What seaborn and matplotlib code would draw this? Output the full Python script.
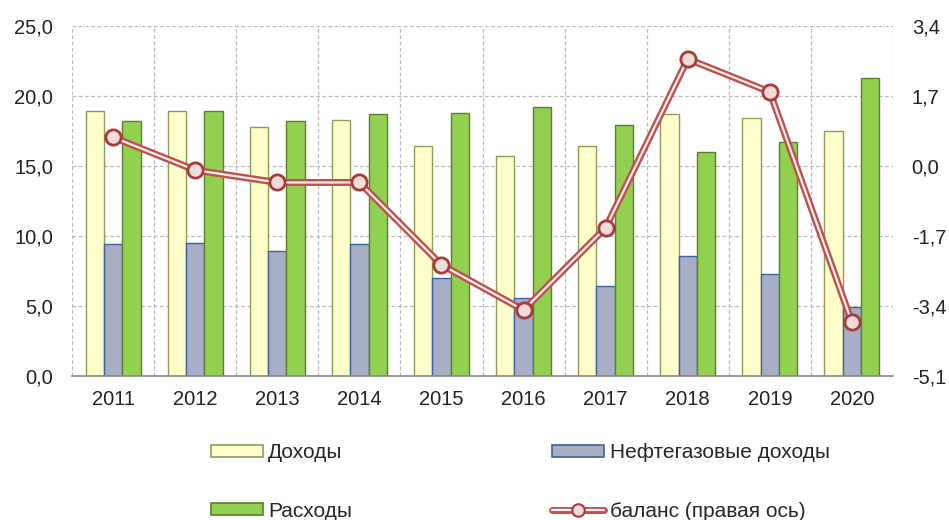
import numpy as np
import pandas as pd
import matplotlib
matplotlib.use("Agg")
import matplotlib.pyplot as plt
from matplotlib.patches import Patch
from matplotlib.lines import Line2D
import seaborn as sns

years = ["2011", "2012", "2013", "2014", "2015", "2016", "2017", "2018", "2019", "2020"]
dohody = [18.9, 18.9, 17.8, 18.3, 16.4, 15.7, 16.4, 18.7, 18.4, 17.5]
neftegaz = [9.4, 9.5, 8.9, 9.4, 7.0, 5.6, 6.4, 8.6, 7.3, 4.9]
rashody = [18.2, 18.9, 18.2, 18.7, 18.8, 19.2, 17.9, 16.0, 16.7, 21.3]
balans = [0.7, -0.1, -0.4, -0.4, -2.4, -3.5, -1.5, 2.6, 1.8, -3.8]

left_ticks = [0.0, 5.0, 10.0, 15.0, 20.0, 25.0]
right_ticks = [-5.1, -3.4, -1.7, 0.0, 1.7, 3.4]

names = ["Доходы", "Нефтегазовые доходы", "Расходы"]
fills = ["#FFFFCC", "#A6AFC6", "#92D050"]
edges = ["#8C9A5A", "#3B629A", "#5E7D32"]

df = pd.DataFrame({
    "year": years * 3,
    "value": dohody + neftegaz + rashody,
    "series": [names[0]] * 10 + [names[1]] * 10 + [names[2]] * 10,
})

sns.set_theme(style="white")
plt.rcParams["font.family"] = ["Liberation Sans", "DejaVu Sans"]

fig = plt.figure(figsize=(9.49, 5.2), dpi=100)
ax = fig.add_axes([72 / 949, 1 - 376 / 520, (893 - 72) / 949, (376 - 26) / 520])

sns.barplot(data=df, x="year", y="value", hue="series", order=years, hue_order=names,
            palette=fills, width=0.67, gap=0, ax=ax, legend=False, saturation=1)
for i, cont in enumerate(ax.containers):
    for bar in cont:
        bar.set_edgecolor(edges[i])
        bar.set_linewidth(1.0)

ax.set_xlim(-0.5, 9.5)
ax.set_ylim(0, 25)
ax.set_yticks(left_ticks)
ax.set_yticklabels([f"{v:.1f}".replace(".", ",") for v in left_ticks])
ax.set_xlabel("")
ax.set_ylabel("")
ax.set_xticks(range(len(years)))
ax.set_xticklabels(years)
ax.set_xticks(np.arange(-0.5, 10, 1.0), minor=True)
ax.tick_params(axis="x", which="major", length=0, labelsize=14.5, pad=10, colors="#222222")
ax.tick_params(axis="x", which="minor", length=6, width=1, color="#888888", direction="out")
ax.tick_params(axis="y", length=0, labelsize=14.5, pad=13.5, colors="#222222")
ax.grid(True, axis="y", which="major", linestyle=(0, (3, 2)), color="#BBBBBB", linewidth=0.9)
ax.grid(True, axis="x", which="minor", linestyle=(0, (3, 2)), color="#BBBBBB", linewidth=0.9)
ax.grid(False, axis="x", which="major")
for s in ["left", "right", "top"]:
    ax.spines[s].set_visible(False)
ax.spines["bottom"].set_color("#888888")
ax.spines["bottom"].set_linewidth(1.2)
ax.set_axisbelow(True)

ax2 = ax.twinx()
xpos = np.arange(len(years))
sns.lineplot(x=xpos, y=balans, ax=ax2, color="#C0504D", linewidth=5, legend=False)
sns.lineplot(x=xpos, y=balans, ax=ax2, color="#FBEFEF", linewidth=1.6, legend=False,
             marker="o", markersize=11, markerfacecolor="#F2DCDB",
             markeredgecolor="#A83A37", markeredgewidth=2)
ax2.set_ylim(-5.1, 3.4)
ax2.set_yticks(right_ticks)
ax2.set_yticklabels([f"{v:.1f}".replace(".", ",") for v in right_ticks])
ax2.tick_params(axis="y", length=0, labelsize=14.5, pad=13.5, colors="#222222")
ax2.set_ylabel("")
for s in ["left", "right", "top", "bottom"]:
    ax2.spines[s].set_visible(False)
ax2.set_xlim(-0.5, 9.5)

h_d = Patch(facecolor=fills[0], edgecolor=edges[0], linewidth=1.2)
h_n = Patch(facecolor=fills[1], edgecolor=edges[1], linewidth=1.2)
h_r = Patch(facecolor=fills[2], edgecolor=edges[2], linewidth=1.2)
h_b = (Line2D([], [], color="#C0504D", linewidth=5),
       Line2D([], [], color="#FBEFEF", linewidth=1.6, marker="o", markersize=9,
              markerfacecolor="#F2DCDB", markeredgecolor="#A83A37", markeredgewidth=1.5))
fig.legend([h_d, h_r, h_n, h_b],
           ["Доходы", "Расходы", "Нефтегазовые доходы", "баланс (правая ось)"],
           ncol=2, loc="upper left", bbox_to_anchor=(211 / 949, 1 - 443 / 520),
           frameon=False, prop={"family": ["Liberation Sans", "DejaVu Sans"], "size": 15},
           handlelength=2.5, handleheight=0.5, handletextpad=0.25,
           labelspacing=1.9, columnspacing=9.6, borderpad=0, borderaxespad=0)

fig.savefig("out.png", dpi=100)
